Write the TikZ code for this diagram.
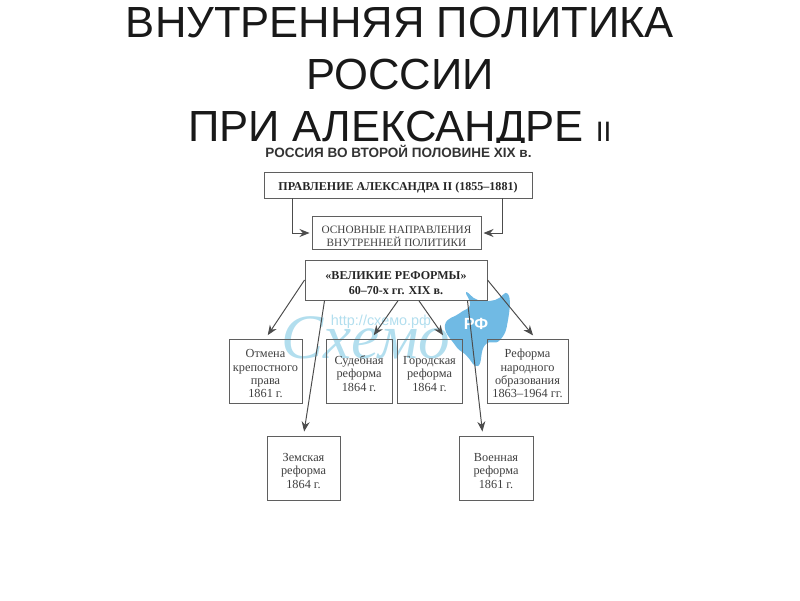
\documentclass[tikz,border=0pt]{standalone}
\usepackage{fontspec}
\setmainfont{Liberation Serif}
\newfontfamily\titlefont{Liberation Sans}
\usetikzlibrary{arrows.meta}
\definecolor{inkline}{RGB}{95,95,95}
\definecolor{splash}{RGB}{112,186,228}
\definecolor{stamp}{RGB}{178,222,238}
\newcommand{\lift}{\rule{0pt}{4pt}}
\tikzset{
  reform/.style={draw=inkline, line width=0.28pt, inner sep=0pt, align=center,
    text=black!75, font=\fontsize{3.5}{3.8}\selectfont},
  coursebox/.style={reform, font=\fontsize{3.2}{3.7}\selectfont},
  headbox/.style={reform, text=black!85, font=\bfseries\fontsize{3.43}{4.2}\selectfont},
  link/.style={draw=black!70, line width=0.28pt, -{Stealth[length=0.1cm,width=0.08cm]}}
}

\begin{document}
\begin{tikzpicture}

\useasboundingbox (0,0) rectangle (8,6);

% title
\node[font=\titlefont\fontsize{12.4}{14.8}\selectfont, align=center, text=black!90] (title) at (4,5.21)
    {ВНУТРЕННЯЯ ПОЛИТИКА\\РОССИИ\\ПРИ АЛЕКСАНДРЕ {\fontsize{8}{8}\selectfont II}};
\fill[white] (2.2,3.6) rectangle (5.9,4.57);

% watermark
\fill[splash] plot[smooth cycle, tension=0.85] coordinates {(4.45,2.75) (4.6,2.87) (4.70,2.95)
    (4.66,3.08) (4.78,3.0) (4.95,3.0) (5.08,3.06) (5.08,2.80) (5.0,2.6) (4.85,2.55)
    (4.78,2.34) (4.66,2.45) (4.55,2.55)};
\node[text=white, font=\titlefont\bfseries\fontsize{4.6}{5}\selectfont] (rf) at (4.76,2.76) {РФ};
\node[text=stamp, font=\itshape\fontsize{18}{18}\selectfont] (script) at (3.66,2.62) {Схемо};
\node[text=stamp, font=\titlefont\fontsize{4.1}{4.1}\selectfont] (url) at (3.81,2.78) {http://схемо.рф};

% heading
\node[font=\titlefont\bfseries\fontsize{3.85}{4}\selectfont, text=black!80] (heading) at (3.985,4.49)
    {РОССИЯ ВО ВТОРОЙ ПОЛОВИНЕ XIX в.};

% boxes
\node[headbox, minimum width=2.68cm, minimum height=0.26cm] (rule) at (3.98,4.15)
    {\lift ПРАВЛЕНИЕ АЛЕКСАНДРА II (1855--1881)};
\node[coursebox, minimum width=1.69cm, minimum height=0.33cm] (course) at (3.965,3.67)
    {\lift ОСНОВНЫЕ НАПРАВЛЕНИЯ\\ВНУТРЕННЕЙ ПОЛИТИКИ};
\node[headbox, minimum width=1.82cm, minimum height=0.40cm] (great) at (3.96,3.20)
    {\lift «ВЕЛИКИЕ РЕФОРМЫ»\\60--70-х гг. XIX в.};

\node[reform, minimum width=0.73cm, minimum height=0.64cm] (serfdom) at (2.655,2.29)
    {\lift Отмена\\крепостного\\права\\1861 г.};
\node[reform, minimum width=0.66cm, minimum height=0.64cm] (court) at (3.59,2.29)
    {\lift Судебная\\реформа\\1864 г.};
\node[reform, minimum width=0.65cm, minimum height=0.64cm] (city) at (4.295,2.29)
    {\lift Городская\\реформа\\1864 г.};
\node[reform, minimum width=0.81cm, minimum height=0.64cm] (school) at (5.275,2.29)
    {\lift Реформа\\народного\\образования\\1863--1964 гг.};
\node[reform, minimum width=0.73cm, minimum height=0.64cm] (zemstvo) at (3.035,1.32)
    {\lift Земская\\реформа\\1864 г.};
\node[reform, minimum width=0.74cm, minimum height=0.64cm] (army) at (4.96,1.32)
    {\lift Военная\\реформа\\1861 г.};

% side arrows to the course box
\coordinate (dropleft) at (2.92,4.02);
\coordinate (dropright) at (5.02,4.02);
\draw[link, shorten >=0.02cm] (dropleft) |- (course.west);
\draw[link, shorten >=0.02cm] (dropright) |- (course.east);

% reforms
\draw[link, shorten >=0.04cm] (great.west) -- (serfdom.north);
\draw[link, shorten >=0.04cm] (great.196) -- (zemstvo.north);
\draw[link, shorten >=0.04cm] (great.276) -- (court.69);
\draw[link, shorten >=0.04cm] (great.318) -- (city.64);
\draw[link, shorten >=0.04cm] (great.344) -- (army.112);
\draw[link, shorten >=0.04cm] (great.east) -- (school.76);

\end{tikzpicture}
\end{document}
